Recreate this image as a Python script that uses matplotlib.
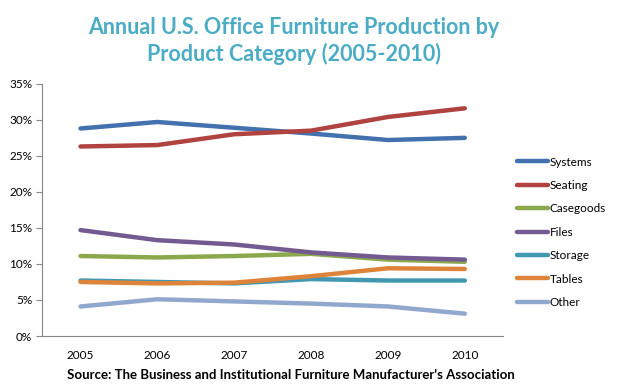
import matplotlib
matplotlib.use("Agg")
import matplotlib.pyplot as plt
from matplotlib.ticker import PercentFormatter

years = ["2005", "2006", "2007", "2008", "2009", "2010"]
systems = [28.8, 29.7, 28.9, 28.1, 27.2, 27.5]
seating = [26.3, 26.5, 28.0, 28.5, 30.4, 31.6]
casegoods = [11.1, 10.9, 11.1, 11.4, 10.6, 10.3]
files = [14.7, 13.3, 12.7, 11.6, 10.9, 10.6]
storage = [7.7, 7.5, 7.3, 7.9, 7.7, 7.7]
tables = [7.5, 7.3, 7.4, 8.3, 9.4, 9.3]
other = [4.1, 5.1, 4.8, 4.5, 4.1, 3.1]

series = [
    ("Systems", systems, "#4271AE"),
    ("Seating", seating, "#B0423F"),
    ("Casegoods", casegoods, "#8CA84C"),
    ("Files", files, "#735A91"),
    ("Storage", storage, "#4298B0"),
    ("Tables", tables, "#DE843A"),
    ("Other", other, "#91A8CE"),
]

plt.rcParams["font.family"] = ["Lato", "DejaVu Sans"]

fig = plt.figure(figsize=(6.19, 3.88), dpi=100)
ax = fig.add_axes([0.068, 0.134, 0.745, 0.65])

x = range(len(years))
for name, vals, color in series:
    ax.plot(x, vals, color=color, lw=3.2, label=name, solid_capstyle="round")

ax.set_xlim(-0.5, len(years) - 0.5)
ax.set_ylim(0, 35)
ax.set_yticks(range(0, 36, 5))
ax.yaxis.set_major_formatter(PercentFormatter(decimals=0))
ax.set_xticks(list(x))
ax.set_xticklabels(years)
ax.tick_params(axis="x", length=0, labelsize=8.5, pad=10)
ax.tick_params(axis="y", length=4, direction="out", color="#868686", labelsize=8.5, pad=3)
for s in ["top", "right"]:
    ax.spines[s].set_visible(False)
for s in ["left", "bottom"]:
    ax.spines[s].set_color("#868686")

ax.legend(loc="upper left", bbox_to_anchor=(1.02, 0.73), frameon=False,
          fontsize=8.5, handlelength=2.6, handletextpad=0.15, labelspacing=1.05,
          borderaxespad=0)

fig.text(0.475, 0.955, "Annual U.S. Office Furniture Production by\nProduct Category (2005-2010)",
         ha="center", va="top", fontsize=15.5, fontweight="bold", color="#4BACC6",
         linespacing=1.25)
fig.text(0.47, 0.033, "Source: The Business and Institutional Furniture Manufacturer's Association",
         ha="center", va="center", fontsize=9.5, fontweight="bold")

fig.savefig("out.png", dpi=100)
